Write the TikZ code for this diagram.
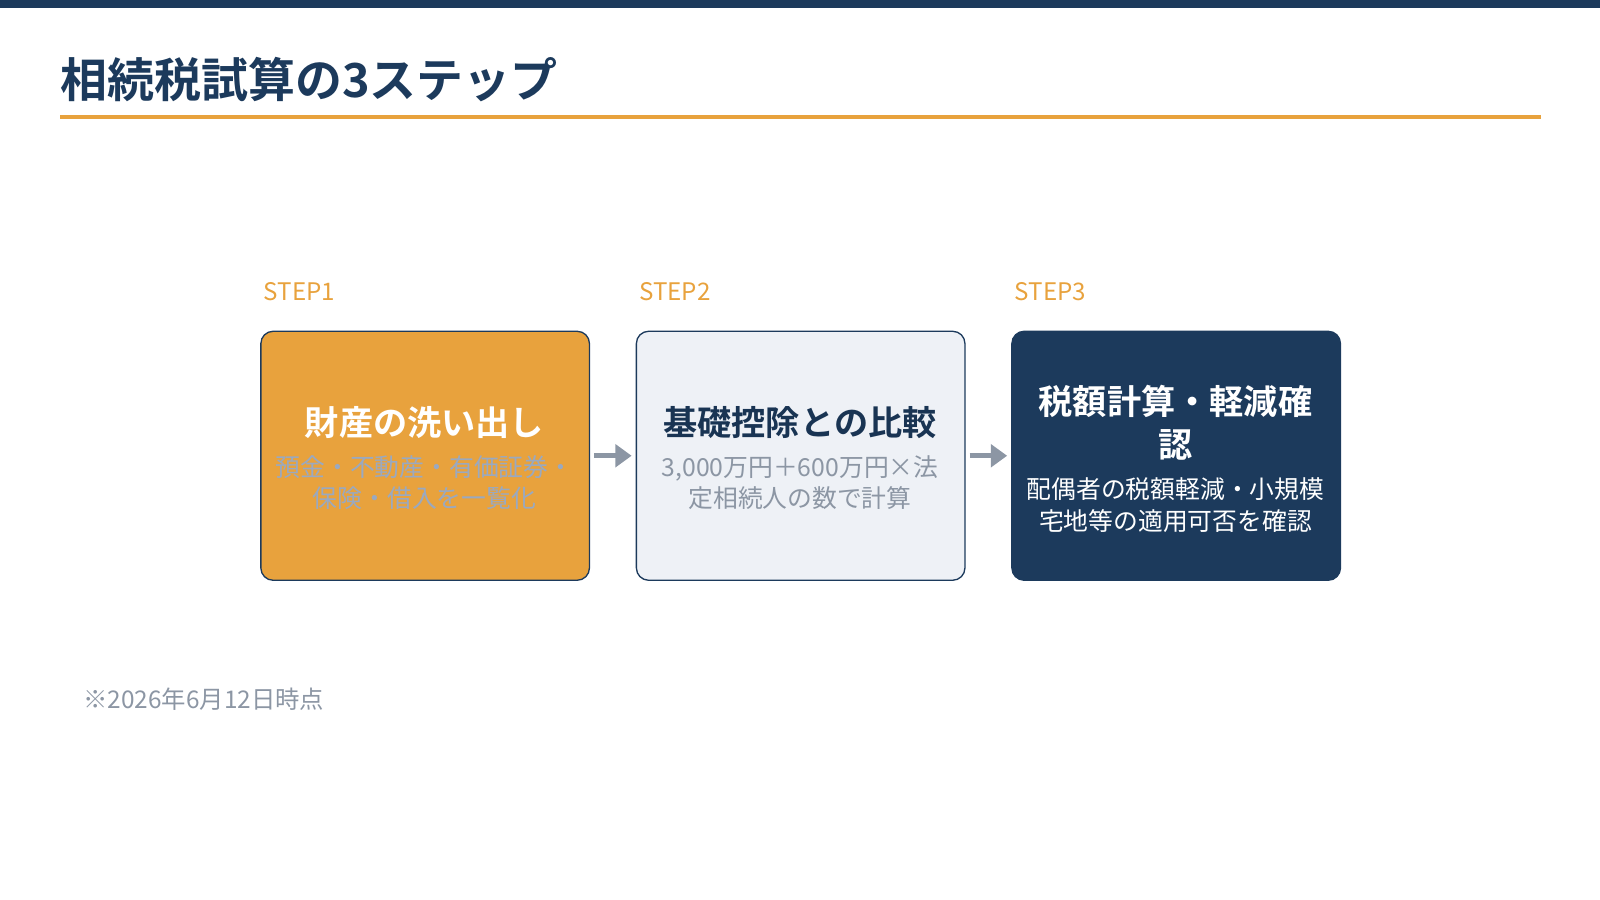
\documentclass[tikz,border=0pt]{standalone}
\usepackage{fontspec}
\setmainfont{Noto Sans CJK JP}
\newfontfamily\jpbold{Noto Sans CJK JP Bold}
\usetikzlibrary{arrows.meta}
\definecolor{navy}{HTML}{1C3A5C}
\definecolor{orng}{HTML}{E8A23D}
\definecolor{pale}{HTML}{EEF1F6}
\definecolor{gry}{HTML}{8C96A4}
\definecolor{sub1}{HTML}{9AA9C0}
\tikzset{x=1pt,y=-1pt,
 card/.style={rounded corners=12pt,draw=navy,line width=1.3pt,minimum width=322pt,minimum height=244pt,anchor=north west},
 steplbl/.style={anchor=west,text=orng,font=\fontsize{23.7}{28}\selectfont},
 ttl/.style={align=center,font=\jpbold\fontsize{33.5}{42}\selectfont},
 sub/.style={align=center,font=\fontsize{24.3}{31}\selectfont},
 flow/.style={draw=gry,line width=5pt,shorten <=4pt,shorten >=4pt,-{Triangle[length=16pt,width=22pt]}}}
\begin{document}
\begin{tikzpicture}
\useasboundingbox (0,0) rectangle (1568,882);
\fill[navy] (0,0) rectangle (1568,8);
\node[anchor=west,text=navy,font=\jpbold\fontsize{46}{52}\selectfont,inner sep=0] (title) at (59,78) {相続税試算の3ステップ};
\fill[orng] (59,113) rectangle (1510,116.5);
\node[steplbl] (s1) at (255,286) {STEP1};
\node[steplbl] (s2) at (623,286) {STEP2};
\node[steplbl] (s3) at (991,286) {STEP3};
\node[card,fill=orng] (b1) at (255,324) {};
\node[card,fill=pale] (b2) at (623,324) {};
\node[card,fill=navy] (b3) at (991,324) {};
\node[ttl,text=white] (t1) at (416,414) {財産の洗い出し};
\node[sub,text=sub1] (u1) at (416,473) {預金・不動産・有価証券・\\保険・借入を一覧化};
\node[ttl,text=navy!90!black] (t2) at (784,414) {基礎控除との比較};
\node[sub,text=gry] (u2) at (784,473) {3,000万円＋600万円×法\\定相続人の数で計算};
\node[ttl,text=white] (t3) at (1152,414) {税額計算・軽減確\\認};
\node[sub,text=white] (u3) at (1152,495) {配偶者の税額軽減・小規模\\宅地等の適用可否を確認};
\draw[flow] (b1.east) -- (b2.west);
\draw[flow] (b2.east) -- (b3.west);
\node[anchor=west,text=gry,font=\fontsize{23.9}{28}\selectfont] (note) at (78,685) {※2026年6月12日時点};
\end{tikzpicture}
\end{document}
